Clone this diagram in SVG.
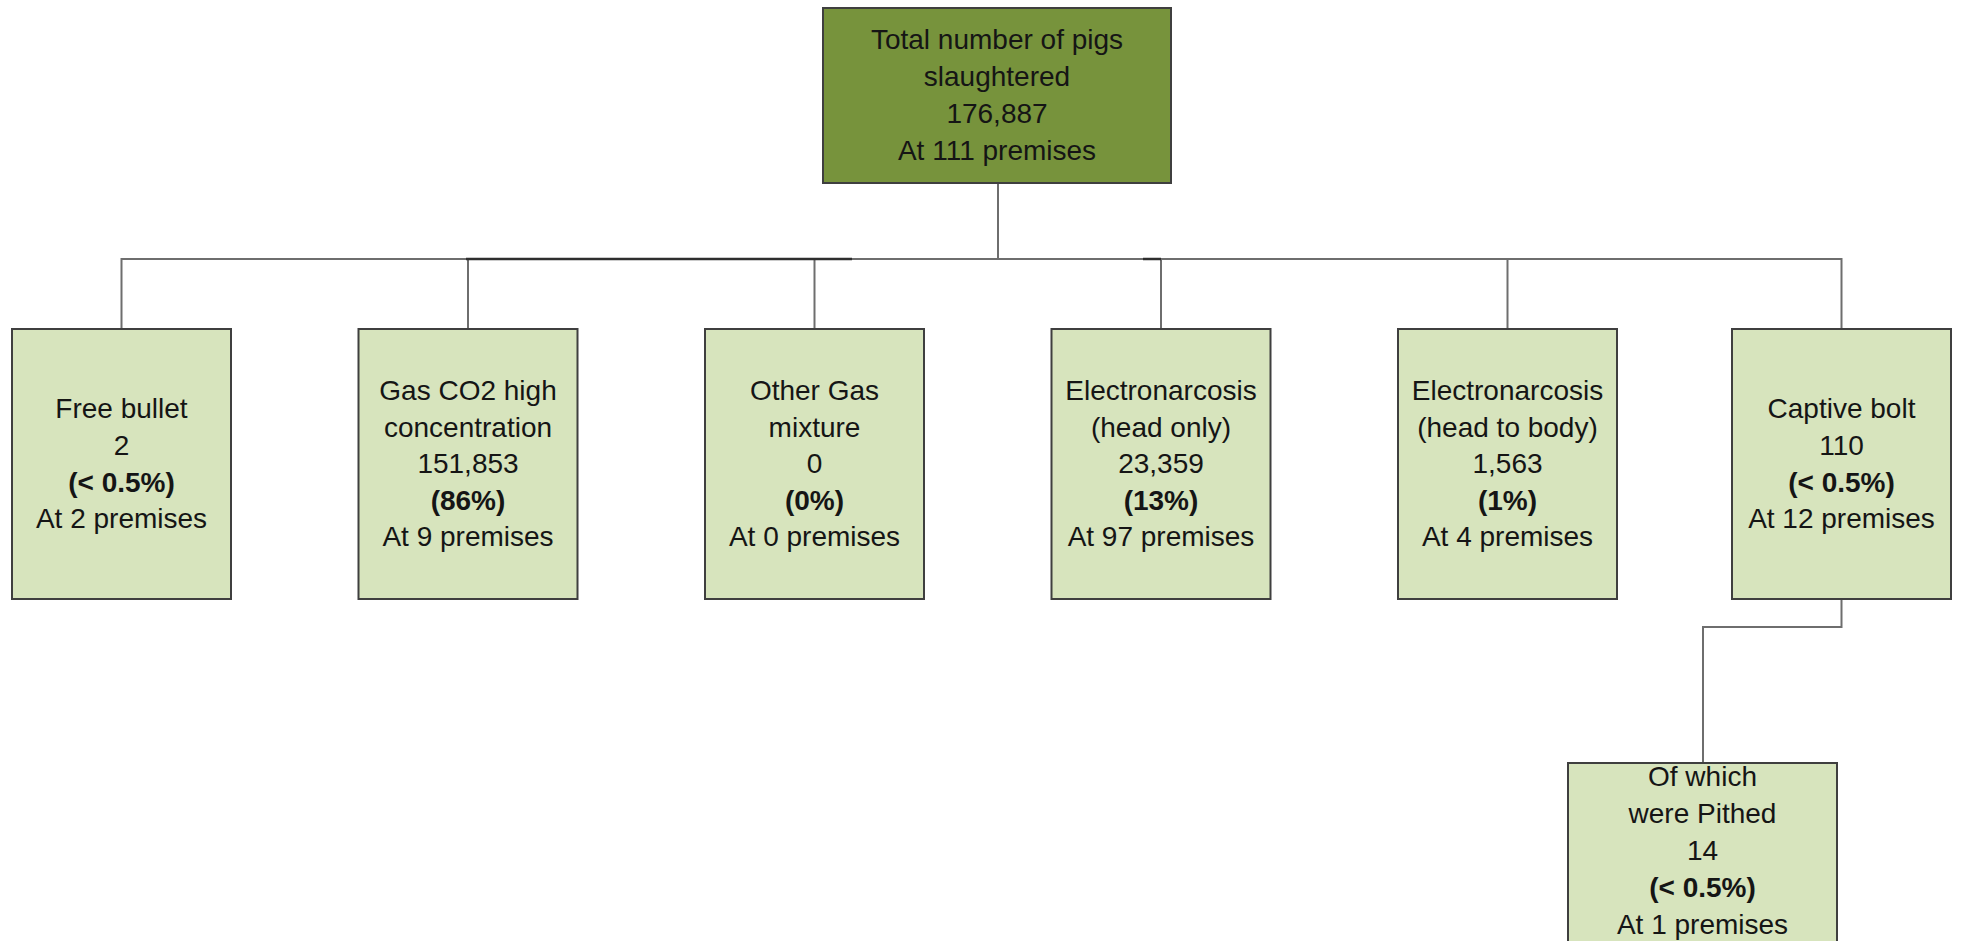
<svg xmlns="http://www.w3.org/2000/svg" width="1961" height="941" viewBox="0 0 1961 941">
<style>
.box{fill:#D7E4BD;stroke:#3F3F3F;stroke-width:2}
.top{fill:#77933C;stroke:#3F3F3F;stroke-width:2}
text{font-family:"Liberation Sans",Arial,sans-serif;font-size:28px;fill:#151515;text-anchor:middle}
.b{font-weight:bold}
.c{fill:none;stroke:#6E6E6E;stroke-width:2}
.d{fill:none;stroke:#2E2E2E;stroke-width:2.5}
</style>
<rect width="1961" height="941" fill="#FFFFFF"/>
<g id="connectors">
<path class="c" d="M998 183 V259"/>
<path class="c" d="M121.5 329 V259 H1841.5 V329"/>
<path class="c" d="M468 259 V329"/>
<path class="c" d="M814.5 259 V329"/>
<path class="c" d="M1161 259 V329"/>
<path class="c" d="M1507.5 259 V329"/>
<path class="d" d="M466 259 H852"/>
<path class="d" d="M1143 259 H1161"/>
<path class="c" d="M1841.5 599 V627 H1703 V763"/>
</g>
<g id="node-total">
<rect class="top" x="823" y="8" width="348" height="175"/>
<text x="997" y="49">Total number of pigs</text>
<text x="997" y="86">slaughtered</text>
<text x="997" y="123">176,887</text>
<text x="997" y="160">At 111 premises</text>
</g>
<g id="node-free-bullet">
<rect class="box" x="12" y="329" width="219" height="270"/>
<text x="121.5" y="418">Free bullet</text>
<text x="121.5" y="455">2</text>
<text x="121.5" y="492" class="b">(&lt; 0.5%)</text>
<text x="121.5" y="528">At 2 premises</text>
</g>
<g id="node-gas-co2">
<rect class="box" x="358.5" y="329" width="219" height="270"/>
<text x="468" y="400">Gas CO2 high</text>
<text x="468" y="437">concentration</text>
<text x="468" y="473">151,853</text>
<text x="468" y="510" class="b">(86%)</text>
<text x="468" y="546">At 9 premises</text>
</g>
<g id="node-other-gas">
<rect class="box" x="705" y="329" width="219" height="270"/>
<text x="814.5" y="400">Other Gas</text>
<text x="814.5" y="437">mixture</text>
<text x="814.5" y="473">0</text>
<text x="814.5" y="510" class="b">(0%)</text>
<text x="814.5" y="546">At 0 premises</text>
</g>
<g id="node-electro-head">
<rect class="box" x="1051.5" y="329" width="219" height="270"/>
<text x="1161" y="400">Electronarcosis</text>
<text x="1161" y="437">(head only)</text>
<text x="1161" y="473">23,359</text>
<text x="1161" y="510" class="b">(13%)</text>
<text x="1161" y="546">At 97 premises</text>
</g>
<g id="node-electro-body">
<rect class="box" x="1398" y="329" width="219" height="270"/>
<text x="1507.5" y="400">Electronarcosis</text>
<text x="1507.5" y="437">(head to body)</text>
<text x="1507.5" y="473">1,563</text>
<text x="1507.5" y="510" class="b">(1%)</text>
<text x="1507.5" y="546">At 4 premises</text>
</g>
<g id="node-captive-bolt">
<rect class="box" x="1732" y="329" width="219" height="270"/>
<text x="1841.5" y="418">Captive bolt</text>
<text x="1841.5" y="455">110</text>
<text x="1841.5" y="492" class="b">(&lt; 0.5%)</text>
<text x="1841.5" y="528">At 12 premises</text>
</g>
<g id="node-pithed">
<rect class="box" x="1568" y="763" width="269" height="200"/>
<text x="1702.5" y="786">Of which</text>
<text x="1702.5" y="823">were Pithed</text>
<text x="1702.5" y="860">14</text>
<text x="1702.5" y="897" class="b">(&lt; 0.5%)</text>
<text x="1702.5" y="934">At 1 premises</text>
</g>
</svg>
